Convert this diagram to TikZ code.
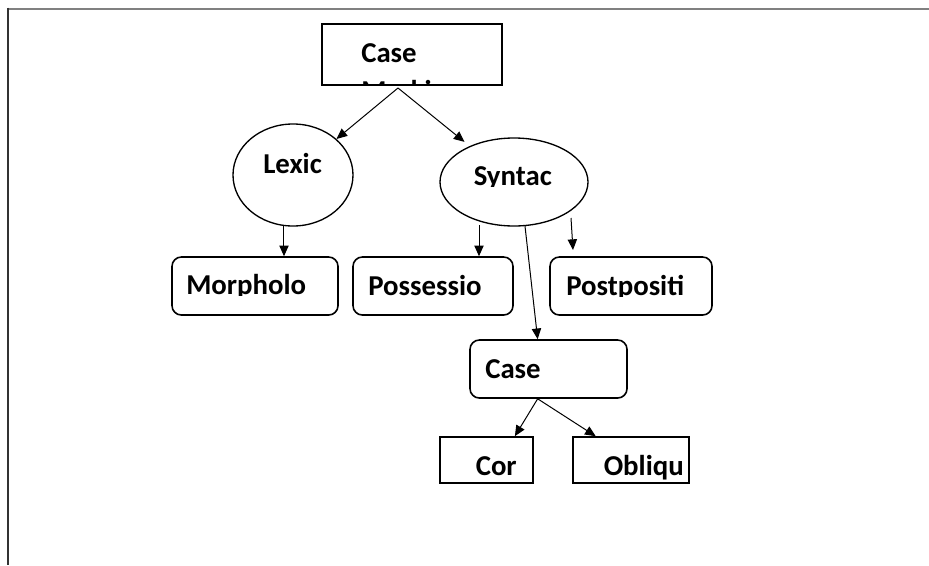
\documentclass[tikz,border=0pt]{standalone}
\usepackage{fontspec}
\setmainfont{Carlito}
\usepackage{tikz}
\usetikzlibrary{positioning,shapes.geometric,arrows.meta,calc}
\tikzset{lbl/.style={font=\bfseries\fontsize{21.6}{26}\selectfont, inner sep=0pt}}
\tikzset{sqbox/.style={draw, line width=1.2pt, inner sep=0pt}}
\tikzset{rbox/.style={draw, line width=1.2pt, rounded corners=7pt, inner sep=0pt, minimum height=43.5pt}}
\tikzset{oval/.style={draw, ellipse, line width=1pt, inner sep=0pt}}
\tikzset{conn/.style={-{Triangle[length=8pt,width=7pt]}, line width=0.75pt}}
% text cut off at the foot, as in the text boxes of the original
\newcommand{\clippedlabel}[5]{%
  \begin{scope}
    \clip (#2-10,#3-60) rectangle (#2+200,#4);
    \node[lbl, anchor=base west] (#1) at (#2,#3) {#5};
  \end{scope}}

\begin{document}
\begin{tikzpicture}[x=0.75pt, y=-0.75pt]

	\useasboundingbox (0,0) rectangle (929,565);
	\draw[line width=1.5pt, gray] (8,8.5) -- (929,8.5);
	\draw[line width=1.5pt, black!80] (7.5,7.5) -- (7.5,565);

	\node[lbl, anchor=base west] (tcasemark) at (361,62) {Case};
	\clippedlabel{tmarking}{361}{100}{84.5}{Marking}

	\node[sqbox, minimum width=135pt, minimum height=45.75pt] (casemark) at (412,54.5) {};
	\node[oval, minimum width=90pt, minimum height=76.5pt] (lexic) at (293,175) {};
	\node[oval, minimum width=111pt, minimum height=66pt] (syntac) at (514,182) {};
	\node[rbox, minimum width=124.5pt] (morph) at (255,286) {};
	\node[rbox, minimum width=120pt] (poss) at (433,286) {};
	\node[rbox, minimum width=121.5pt] (postp) at (631,286) {};
	\node[rbox, minimum width=117.75pt] (case) at (548.5,369) {};
	\node[sqbox, minimum width=69.75pt, minimum height=34.5pt] (cor) at (486.5,460) {};
	\node[sqbox, minimum width=87pt, minimum height=34.5pt] (obliq) at (631,460) {};

	\node[lbl, anchor=base west] (tlexic) at (263,173) {Lexic};
	\clippedlabel{tsyntac}{473.5}{185}{186.5}{Syntac}
	\clippedlabel{tmorph}{186}{294}{295.5}{Morpholo}
	\node[lbl, anchor=base west] (tposs) at (368,295) {Possessio};
	\clippedlabel{tpostp}{566}{295}{296.5}{Postpositi}
	\node[lbl, anchor=base west] (tcase) at (485,378) {Case};
	\node[lbl, anchor=base west] (tcor) at (475.5,475) {Cor};
	\clippedlabel{tobliq}{603.5}{475}{479}{Obliqu}

	\coordinate (mfoot) at (398,88);
	\coordinate (possin) at (479,225);
	\coordinate (postin) at (571,218);
	\coordinate (postend) at (573,250);

	\draw[conn] (mfoot) -- (lexic);
	\draw[conn, shorten >=5pt] (mfoot) -- (syntac);
	\draw[conn] (lexic.-100) -- (lexic.-100 |- morph.north);
	\draw[conn] (possin) -- (possin |- poss.north);
	\draw[conn] (postin) -- (postend);
	\draw[conn] (syntac.-76) -- (case.110);
	\draw[conn] (case.-110) -- (cor.40);
	\draw[conn] (case.-110) -- (obliq.146);

\end{tikzpicture}
\end{document}
